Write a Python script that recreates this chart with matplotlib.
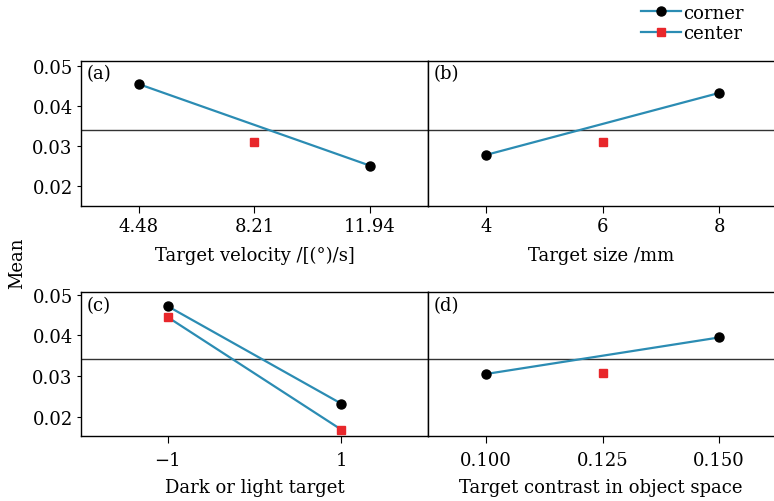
import numpy as np
import matplotlib.pyplot as plt
from matplotlib.lines import Line2D

plt.rcParams['font.family'] = ['DejaVu Serif']
plt.rcParams['mathtext.fontset'] = 'dejavuserif'

# factor levels and means
velocity = [4.48, 8.21, 11.94]
size_mm = [4, 6, 8]
dark_light = [-1, 1]
contrast = [0.100, 0.125, 0.150]

corner_velocity = [0.0455, 0.0251]
center_velocity = [0.0311]
corner_size = [0.0278, 0.0433]
center_size = [0.0311]
corner_dark = [0.0472, 0.0232]
center_dark = [0.0445, 0.0168]
corner_contrast = [0.0305, 0.0395]
center_contrast = [0.0308]

grand_mean = 0.0341

velocity_labels = ["4.48", "8.21", "11.94"]
size_labels = ["4", "6", "8"]
dark_labels = ["\u22121", "1"]
contrast_labels = ["0.100", "0.125", "0.150"]

blue = "#2b8cb3"
red = "#e8272b"
fs = 13

fig = plt.figure(figsize=(7.74, 5.02), dpi=100)

panels = [
    # rect, levels, labels, corner x, corner y, center x, center y, xlabel, tag, ylim
    ([0.1047, 0.5876, 0.448, 0.289], velocity, velocity_labels,
     [velocity[0], velocity[2]], corner_velocity, [velocity[1]], center_velocity,
     "Target velocity /[(°)/s]", "(a)", (0.015, 0.0513)),
    ([0.553, 0.5876, 0.447, 0.289], size_mm, size_labels,
     [size_mm[0], size_mm[2]], corner_size, [size_mm[1]], center_size,
     "Target size /mm", "(b)", (0.015, 0.0513)),
    ([0.1047, 0.1295, 0.448, 0.2868], dark_light, dark_labels,
     dark_light, corner_dark, dark_light, center_dark,
     "Dark or light target", "(c)", (0.0152, 0.0507)),
    ([0.553, 0.1295, 0.447, 0.2868], contrast, contrast_labels,
     [contrast[0], contrast[2]], corner_contrast, [contrast[1]], center_contrast,
     "Target contrast in object space", "(d)", (0.0152, 0.0507)),
]

for i, (rect, levels, labels, cx, cy, mx, my, xlabel, tag, ylim) in enumerate(panels):
    ax = fig.add_axes(rect)
    step = (levels[-1] - levels[0]) / (len(levels) - 1) if len(levels) > 2 else (levels[1] - levels[0])
    if len(levels) == 2:
        ax.set_xlim(levels[0] - step * 0.5, levels[1] + step * 0.5)
    else:
        right = 0.47 if i % 2 == 1 else 0.5
        ax.set_xlim(levels[0] - step * 0.5, levels[-1] + step * right)
    ax.set_ylim(*ylim)
    ax.axhline(grand_mean, color="#333333", lw=1.0, zorder=1)
    ax.plot(cx, cy, color=blue, lw=1.6, marker="o", ms=6.5, mfc="black", mec="black", zorder=3)
    ax.plot(mx, my, color=blue, lw=1.6, marker="s", ms=6, mfc=red, mec=red, zorder=3)
    ax.set_xticks(levels)
    ax.set_xticklabels(labels)
    top = i < 2
    ax.set_xlabel(xlabel, fontsize=fs, labelpad=8 if top else 6)
    ax.tick_params(axis="x", direction="out", length=5, width=0.8, labelsize=fs,
                   pad=3 if top else 6)
    if i % 2 == 0:
        ax.set_yticks([0.02, 0.03, 0.04, 0.05])
        ax.set_yticklabels(["0.02", "0.03", "0.04", "0.05"])
        ax.tick_params(axis="y", direction="out", length=3, width=0.8, labelsize=fs, pad=3)
    else:
        ax.set_yticks([])
        ax.spines["right"].set_visible(False)
    for s in ax.spines.values():
        s.set_linewidth(1.0)
    ax.text(0.015, 0.975, tag, transform=ax.transAxes, ha="left", va="top", fontsize=fs)

fig.text(0.022, 0.476, "Mean", rotation=90, ha="center", va="center", fontsize=fs)

handles = [
    Line2D([], [], color=blue, lw=1.6, marker="o", ms=6.5, mfc="black", mec="black"),
    Line2D([], [], color=blue, lw=1.6, marker="s", ms=6, mfc=red, mec=red),
]
fig.legend(handles, ["corner", "center"], loc="upper right", bbox_to_anchor=(0.975, 1.012),
           frameon=False, fontsize=fs, handlelength=2.2, handletextpad=0.15,
           labelspacing=0.12, borderaxespad=0.2)

fig.savefig("out.png", dpi=100)
